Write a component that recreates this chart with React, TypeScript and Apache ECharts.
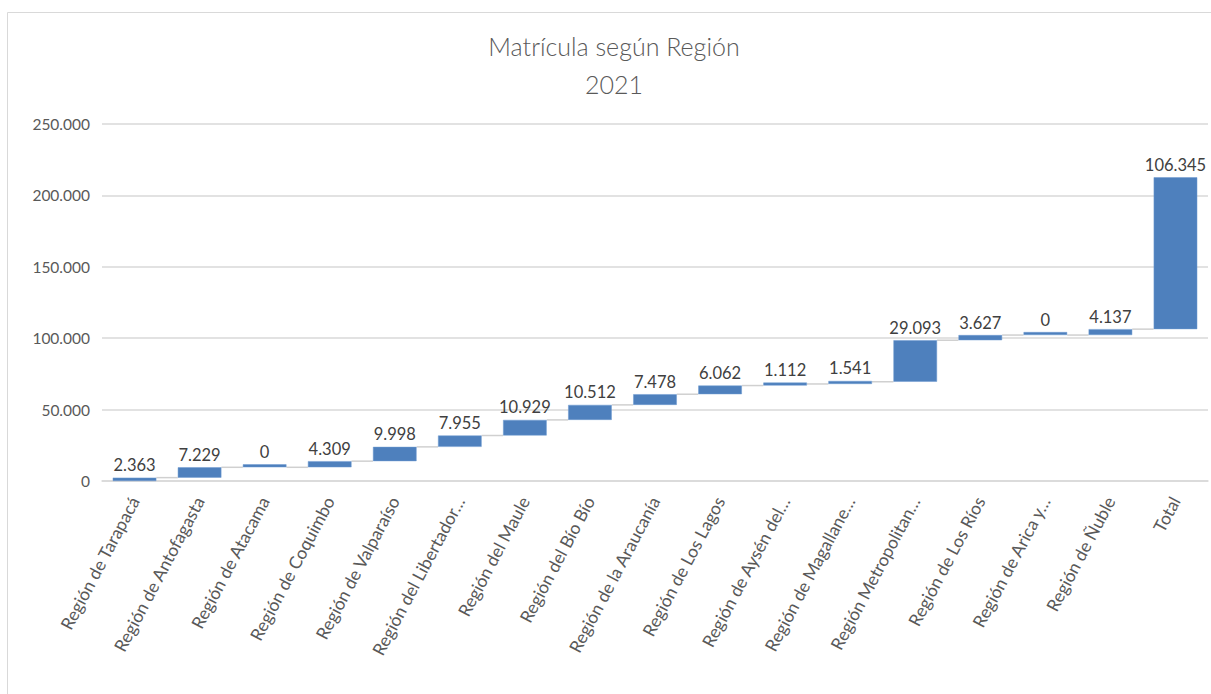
import React, { useEffect, useRef } from "react";
import * as echarts from "echarts";

const categories = [
  "Región de Tarapacá",
  "Región de Antofagasta",
  "Región de Atacama",
  "Región de Coquimbo",
  "Región de Valparaíso",
  "Región del Libertador…",
  "Región del Maule",
  "Región del Bío Bío",
  "Región de la Araucanía",
  "Región de Los Lagos",
  "Región de Aysén del…",
  "Región de Magallane…",
  "Región Metropolitan…",
  "Región de Los Ríos",
  "Región de Arica y…",
  "Región de Ñuble",
  "Total",
];

const values = [2363, 7229, 0, 4309, 9998, 7955, 10929, 10512, 7478, 6062, 1112, 1541, 29093, 3627, 0, 4137, 106345];

const yTicks = { min: 0, max: 250000, interval: 50000 };

const fmt = (v: number) => String(Math.round(v)).replace(/\B(?=(\d{3})+(?!\d))/g, ".");

export default function App() {
  const ref = useRef<HTMLDivElement>(null);
  useEffect(() => {
    if (!ref.current) return;
    const chart = echarts.init(ref.current, null, { renderer: "svg" });
    const bases: number[] = [];
    const ends: number[] = [];
    let run = 0;
    values.forEach((v) => {
      bases.push(run);
      run += v;
      ends.push(run);
    });
    const connectorData = ends.slice(0, -1).map((e, i) => [i, e]);
    const font = "Lato, 'Liberation Sans', sans-serif";
    const barFrac = 0.67;
    chart.setOption({
      animation: false,
      textStyle: { fontFamily: font },
      graphic: [
        {
          type: "rect",
          shape: { x: 7.5, y: 12.5, width: 1400, height: 1000 },
          style: { fill: "none", stroke: "#d9d9d9", lineWidth: 1 },
          silent: true,
        },
        {
          type: "text",
          x: 614,
          y: 46,
          style: {
            text: "Matrícula según Región",
            fontSize: 25,
            fontFamily: font,
            fontWeight: 300,
            fill: "#595959",
            textAlign: "center",
            textVerticalAlign: "middle",
          },
        },
        {
          type: "text",
          x: 614,
          y: 84,
          style: {
            text: "2021",
            fontSize: 25,
            fontFamily: font,
            fontWeight: 300,
            fill: "#595959",
            textAlign: "center",
            textVerticalAlign: "middle",
          },
        },
      ],
      grid: { left: 102, right: 3, top: 124, bottom: 213, containLabel: false },
      xAxis: {
        type: "category",
        data: categories,
        axisTick: { show: false },
        axisLine: { lineStyle: { color: "#d9d9d9", width: 1.5 } },
        axisLabel: {
          rotate: 62,
          interval: 0,
          margin: 17,
          color: "#595959",
          fontSize: 17.5,
          fontFamily: font,
        },
      },
      yAxis: {
        type: "value",
        min: yTicks.min,
        max: yTicks.max,
        interval: yTicks.interval,
        axisLine: { show: false },
        axisTick: { show: false },
        splitLine: { lineStyle: { color: "#d9d9d9", width: 1.5 } },
        axisLabel: {
          color: "#595959",
          fontSize: 15.5,
          margin: 12,
          fontFamily: font,
          formatter: (v: number) => fmt(v),
        },
      },
      series: [
        {
          type: "custom",
          z: 1,
          data: connectorData,
          renderItem: (params: any, api: any) => {
            const i = api.value(0);
            const y = api.value(1);
            const p1 = api.coord([i, y]);
            const p2 = api.coord([i + 1, y]);
            const w = api.size([1, 0])[0] * barFrac;
            return {
              type: "line",
              shape: { x1: p1[0] + w / 2, y1: p1[1], x2: p2[0] - w / 2, y2: p2[1] },
              style: { stroke: "#d0d0d0", lineWidth: 1.5 },
            };
          },
        },
        {
          type: "bar",
          stack: "w",
          z: 2,
          data: bases,
          itemStyle: { color: "transparent" },
          barWidth: "67%",
          silent: true,
        },
        {
          type: "bar",
          stack: "w",
          z: 3,
          data: values,
          barWidth: "67%",
          barMinHeight: 3,
          itemStyle: { color: "#4e80bd", borderColor: "#6f9ad0", borderWidth: 0.5 },
          label: {
            show: true,
            position: "top",
            distance: 4,
            color: "#404040",
            fontSize: 16.5,
            fontFamily: font,
            formatter: (p: any) => fmt(p.value),
          },
        },
      ],
    });
    return () => chart.dispose();
  }, []);
  return (
    <div
      ref={ref}
      style={{ position: "fixed", left: 0, top: 0, width: 1211, height: 694, background: "#fff" }}
    />
  );
}
